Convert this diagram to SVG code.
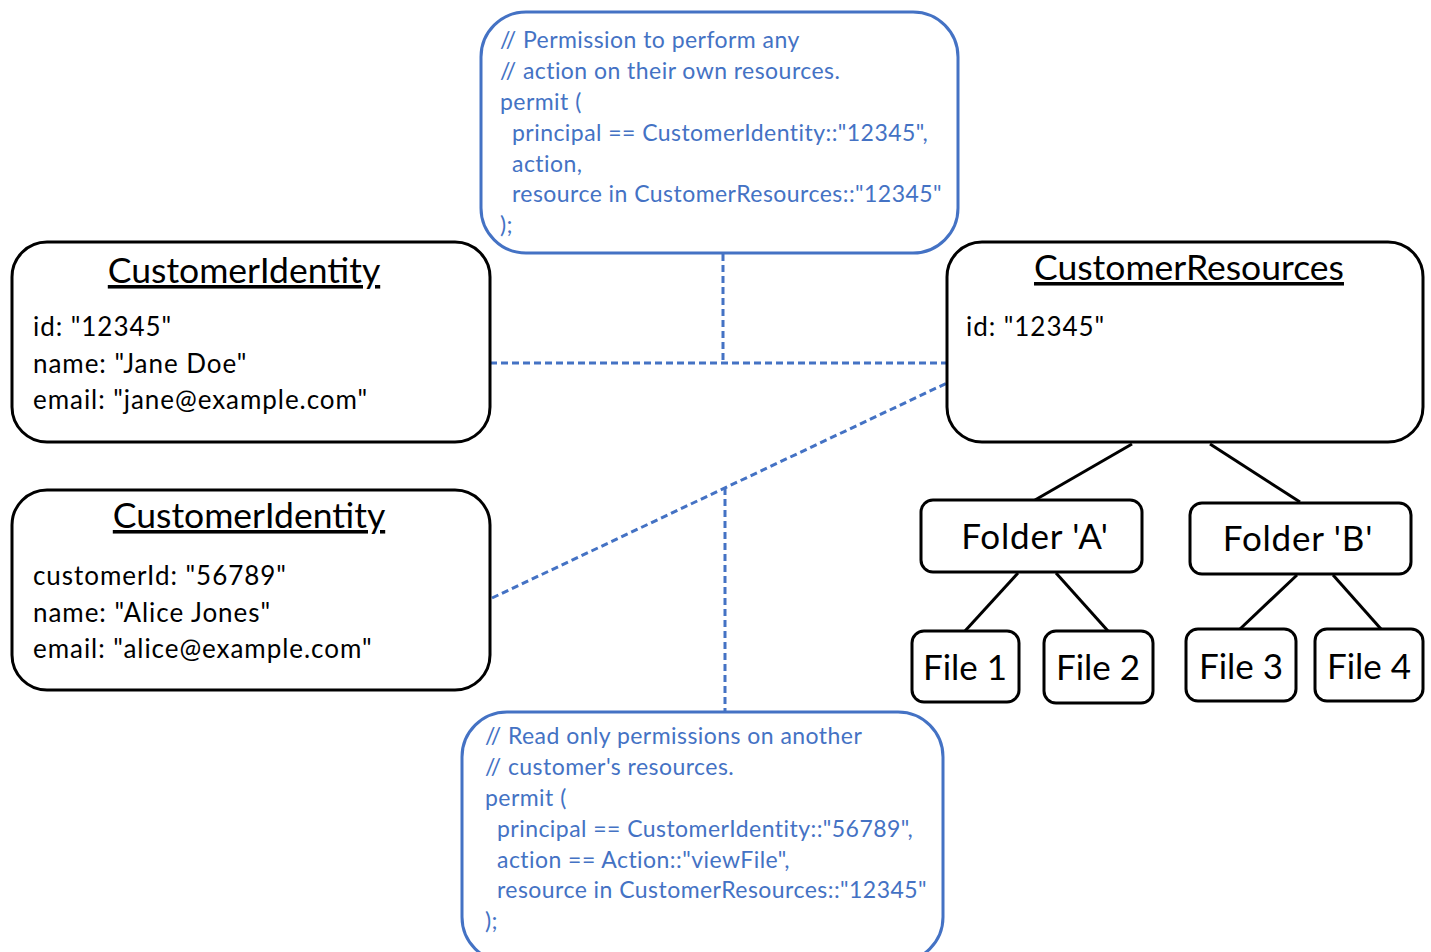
<svg xmlns="http://www.w3.org/2000/svg" width="1431" height="952" viewBox="0 0 1431 952">
<style>
.box{fill:#fff;stroke:#000;stroke-width:3}
.pol{fill:#fff;stroke:#4472C4;stroke-width:3}
.code{font-family:Lato,"Open Sans",sans-serif;font-size:23px;letter-spacing:0.45px;fill:#4472C4}
.title{font-family:Lato,"Open Sans",sans-serif;font-size:35.5px;fill:#000;text-anchor:middle;text-decoration:underline}
.attr{font-family:Lato,"Open Sans",sans-serif;font-size:26px;letter-spacing:0.95px;fill:#000}
.big{font-family:Lato,"Open Sans",sans-serif;font-size:35px;fill:#000;text-anchor:middle}
.dash{stroke:#4472C4;stroke-width:3;stroke-dasharray:7 4;fill:none}
.tree{stroke:#000;stroke-width:3;fill:none}
</style>
<rect width="1431" height="952" fill="#fff"/>
<g id="connectors">
<line class="dash" x1="490" y1="363" x2="947" y2="363"/>
<line class="dash" x1="723" y1="254" x2="723" y2="363"/>
<line class="dash" x1="492" y1="598" x2="947" y2="383"/>
<line class="dash" x1="725" y1="488" x2="725" y2="712"/>
<line class="tree" x1="1132" y1="444" x2="1035" y2="500"/>
<line class="tree" x1="1210" y1="444" x2="1300" y2="502"/>
<line class="tree" x1="1018" y1="573" x2="965" y2="631"/>
<line class="tree" x1="1056" y1="573" x2="1108" y2="631"/>
<line class="tree" x1="1297" y1="575" x2="1240" y2="629"/>
<line class="tree" x1="1333" y1="575" x2="1381" y2="629"/>
</g>
<g id="policy1">
<rect class="pol" x="481" y="12" width="477" height="241" rx="45"/>
<text class="code" x="500" y="48">// Permission to perform any</text>
<text class="code" x="500" y="79">// action on their own resources.</text>
<text class="code" x="500" y="110">permit (</text>
<text class="code" x="512" y="141">principal == CustomerIdentity::"12345",</text>
<text class="code" x="512" y="172">action,</text>
<text class="code" x="512" y="202">resource in CustomerResources::"12345"</text>
<text class="code" x="500" y="233">);</text>
</g>
<g id="identity1">
<rect class="box" x="12" y="242" width="478" height="200" rx="35"/>
<text class="title" x="244" y="283">CustomerIdentity</text>
<text class="attr" x="33" y="336">id: "12345"</text>
<text class="attr" x="33" y="373">name: "Jane Doe"</text>
<text class="attr" x="33" y="409">email: "jane@example.com"</text>
</g>
<g id="identity2">
<rect class="box" x="12" y="490" width="478" height="200" rx="35"/>
<text class="title" x="249" y="528">CustomerIdentity</text>
<text class="attr" x="33" y="585">customerId: "56789"</text>
<text class="attr" x="33" y="622">name: "Alice Jones"</text>
<text class="attr" x="33" y="658">email: "alice@example.com"</text>
</g>
<g id="resources">
<rect class="box" x="947" y="242" width="476" height="200" rx="35"/>
<text class="title" x="1189" y="280">CustomerResources</text>
<text class="attr" x="966" y="336">id: "12345"</text>
</g>
<g id="folderA">
<rect class="box" x="921" y="500" width="221" height="72" rx="12"/>
<text class="big" x="1035" y="549" letter-spacing="0.8">Folder 'A'</text>
</g>
<g id="folderB">
<rect class="box" x="1190" y="503" width="221" height="71" rx="12"/>
<text class="big" x="1298" y="551" letter-spacing="0.8">Folder 'B'</text>
</g>
<g id="file1">
<rect class="box" x="912" y="631" width="107" height="71" rx="12"/>
<text class="big" x="965" y="680">File 1</text>
</g>
<g id="file2">
<rect class="box" x="1044" y="631" width="109" height="72" rx="12"/>
<text class="big" x="1098" y="680">File 2</text>
</g>
<g id="file3">
<rect class="box" x="1186" y="629" width="110" height="72" rx="12"/>
<text class="big" x="1241" y="679">File 3</text>
</g>
<g id="file4">
<rect class="box" x="1315" y="629" width="108" height="72" rx="12"/>
<text class="big" x="1369" y="679">File 4</text>
</g>
<g id="policy2">
<rect class="pol" x="462" y="712" width="481" height="250" rx="45"/>
<text class="code" x="485" y="744">// Read only permissions on another</text>
<text class="code" x="485" y="775">// customer's resources.</text>
<text class="code" x="485" y="806">permit (</text>
<text class="code" x="497" y="837">principal == CustomerIdentity::"56789",</text>
<text class="code" x="497" y="868">action == Action::"viewFile",</text>
<text class="code" x="497" y="898">resource in CustomerResources::"12345"</text>
<text class="code" x="485" y="929">);</text>
</g>
</svg>
